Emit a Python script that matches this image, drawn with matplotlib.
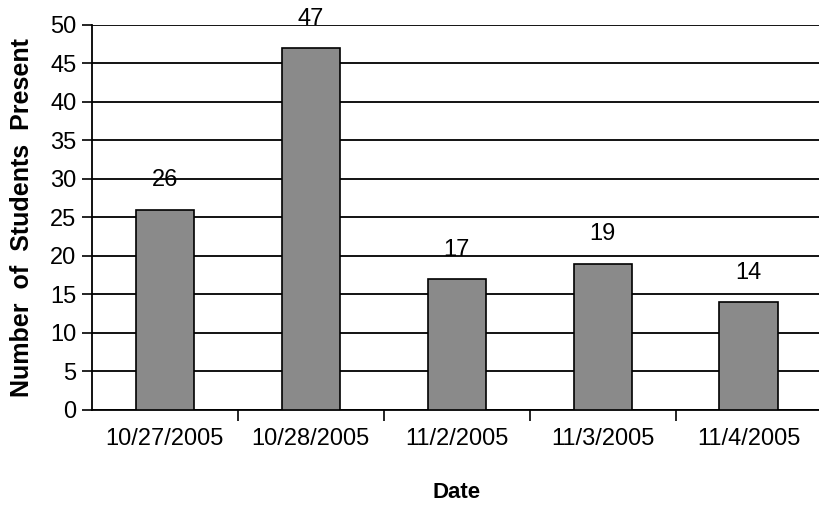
import matplotlib.pyplot as plt
import numpy as np

dates = ["10/27/2005", "10/28/2005", "11/2/2005", "11/3/2005", "11/4/2005"]
students = [26, 47, 17, 19, 14]

plt.rcParams['font.family'] = ['Liberation Sans', 'DejaVu Sans']

fig = plt.figure(figsize=(8.2, 5.08), dpi=100)
ax = fig.add_axes([0.112, 0.193, 0.89, 0.758])

x = np.arange(len(dates))
ax.set_axisbelow(True)
ax.yaxis.grid(True, color='black', linewidth=1.3)
bars = ax.bar(x, students, width=0.4, color='#8a8a8a', edgecolor='black', linewidth=1.2, zorder=3)

for xi, v in zip(x, students):
    ax.text(xi, v + 2.4, str(v), ha='center', va='bottom', fontsize=17, clip_on=False)

ax.set_xlim(-0.5, len(dates) - 0.5)
ax.set_ylim(0, 50)
ax.set_yticks(range(0, 51, 5))
ax.set_xticks(x)
ax.set_xticklabels(dates)
ax.set_xticks(np.arange(0.5, len(dates) - 0.5, 1), minor=True)
ax.tick_params(axis='x', which='major', length=0, pad=13, labelsize=17)
ax.tick_params(axis='x', which='minor', length=8, width=1.2, direction='out')
ax.tick_params(axis='y', length=7, width=1.2, labelsize=17, pad=4)

for s in ['top', 'right']:
    ax.spines[s].set_visible(False)
ax.spines['left'].set_linewidth(1.3)
ax.spines['bottom'].set_linewidth(1.3)

ax.set_xlabel("Date", fontsize=16, fontweight='bold', labelpad=23)
ax.set_ylabel("Number  of  Students  Present", fontsize=18, fontweight='bold', labelpad=12)

fig.savefig("out.png", dpi=100)
